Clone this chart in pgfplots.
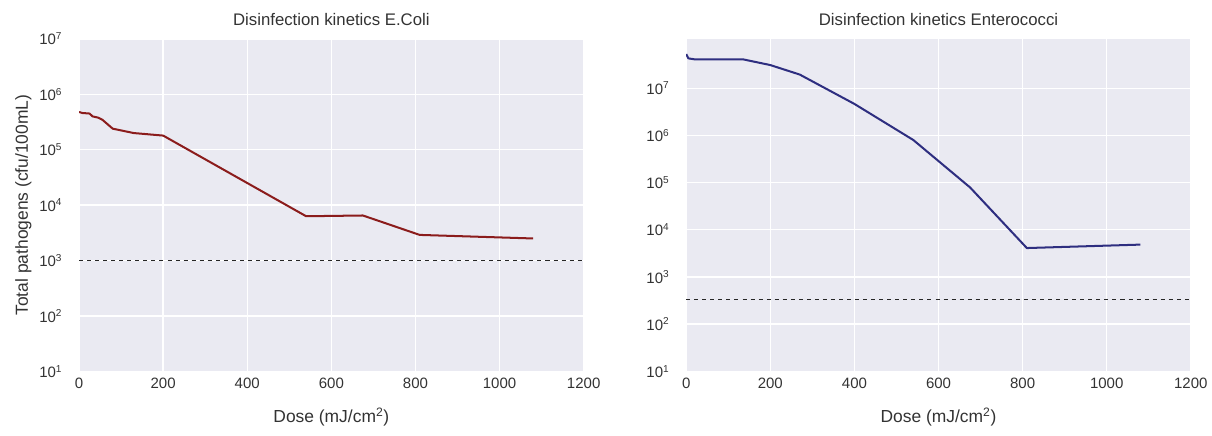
\documentclass[border=0pt]{standalone}
\usepackage{fontspec}
\setmainfont{Liberation Sans}
\usepackage{pgfplots}
\pgfplotsset{compat=1.18}
\definecolor{sbbg}{HTML}{EAEAF2}
\definecolor{sbtext}{HTML}{333333}
\definecolor{ecoli}{HTML}{8B1C1C}
\definecolor{entero}{HTML}{2E2E80}
\definecolor{dashcol}{HTML}{262626}
\newcommand{\ex}[1]{10\textsuperscript{\fontsize{7.5}{8}\selectfont #1}}
\pgfplotsset{
  /pgfplots/sbstyle/.style={
    scale only axis,
    width=376.5pt, height=248pt,
    xmin=0, xmax=1200,
    xtick={0,200,400,600,800,1000,1200},
    axis background/.style={fill=sbbg},
    axis line style={draw=none},
    major tick length=0pt,
    grid=major,
    major grid style={white, line width=1pt},
    tick label style={font=\fontsize{11.2}{13}\selectfont, text=sbtext},
    label style={font=\fontsize{13}{15}\selectfont, text=sbtext},
    title style={font=\fontsize{12.5}{14}\selectfont, text=sbtext, yshift=0.5pt},
    /pgf/number format/assume math mode=true,
    /pgf/number format/1000 sep={},
    xticklabel style={yshift=-1.5pt},
    yticklabel style={xshift=-9pt},
    xlabel={Dose (mJ/cm\textsuperscript{2})},
    xlabel style={yshift=-7.5pt},
  }
}
\begin{document}
\begin{tikzpicture}
\begin{axis}[ymode=log, log basis y=10, sbstyle,
  ymin=10, ymax=1e7,
  ytick={10,100,1000,10000,100000,1000000,10000000},
  yticklabels={\ex{1},\ex{2},\ex{3},\ex{4},\ex{5},\ex{6},\ex{7}},
  title={Disinfection kinetics E.Coli},
  ylabel={Total pathogens (cfu/100mL)},
  ylabel style={yshift=-1pt},
]
\addplot[ecoli, line width=1.5pt, line join=round] coordinates {
(0,480000) (8,460000) (25,450000) (32,400000) (45,380000) (55,350000) (80,240000) (130,200000) (200,180000) (540,6300) (675,6500) (810,2900) (1080,2500)
};
\addplot[dashcol, dashed, line width=0.8pt] coordinates {(0,1000) (1200,1000)};
\end{axis}
\begin{axis}[ymode=log, log basis y=10, sbstyle, xshift=453pt,
  ymin=10, ymax=1.11e8,
  ytick={10,100,1000,10000,100000,1000000,10000000},
  yticklabels={\ex{1},\ex{2},\ex{3},\ex{4},\ex{5},\ex{6},\ex{7}},
  title={Disinfection kinetics Enterococci},
]
\addplot[entero, line width=1.5pt, line join=round] coordinates {
(0,53000000) (5,43000000) (20,41000000) (135,41000000) (200,31000000) (270,19500000) (400,4650000) (540,800000) (675,79000) (810,4100) (1080,4850)
};
\addplot[dashcol, dashed, line width=0.8pt] coordinates {(0,337) (1200,337)};
\end{axis}
\path (current bounding box.west) ++(-8pt,0) coordinate (padw);
\path (current bounding box.north) ++(0,6.5pt) coordinate (padn);
\path (current bounding box.south) ++(0,-3.5pt) coordinate (pads);
\end{tikzpicture}
\end{document}
